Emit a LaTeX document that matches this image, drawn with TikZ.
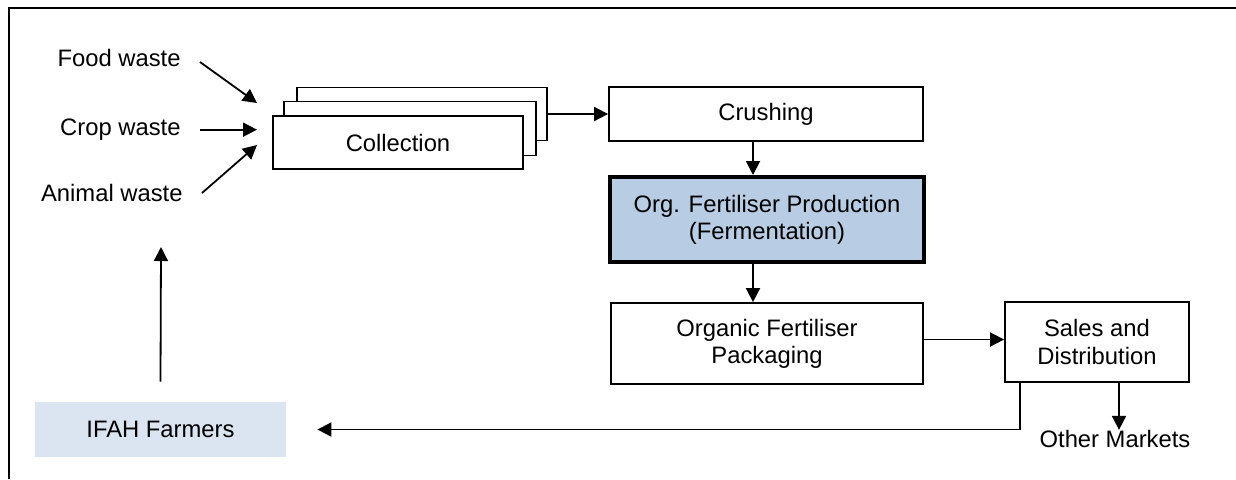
\documentclass[tikz,border=0pt]{standalone}
\usepackage{fontspec}
\setmainfont{Liberation Sans}
\usetikzlibrary{arrows.meta}
\definecolor{prodblue}{HTML}{B8CCE4}
\definecolor{farmblue}{HTML}{DBE5F1}
\begin{document}
\begin{tikzpicture}[x=0.5pt,y=-0.5pt,
  every node/.style={font=\fontsize{11.9pt}{13.6pt}\selectfont},
  stage/.style={draw, line width=0.9pt, fill=white, align=center, inner sep=0pt},
  wastetext/.style={inner sep=0pt, anchor=base east},
  arr/.style={-{Triangle[length=7pt,width=7pt]}, line width=0.9pt}]
\useasboundingbox (0,0) rectangle (1236,479);

% outer frame
\draw[line width=1.4pt, line join=miter] (9,479) -- (9,8) -- (1236,8);

% waste sources
\node[wastetext] (food)   at (181,66.5)  {Food waste};
\node[wastetext] (crop)   at (181,135.5) {Crop waste};
\node[wastetext] (animal) at (183,201.5) {Animal waste};
\coordinate (fw-tip) at (257,103);
\coordinate (cw-tip) at (257,127);
\coordinate (aw-tip) at (257,145);

% stacked collection boxes
\node[stage, minimum width=125pt, minimum height=26.5pt] (colC) at (422,114) {};
\node[stage, minimum width=126pt, minimum height=27pt]   (colB) at (410,128.5) {};
\node[stage, minimum width=125pt, minimum height=26.5pt] (colA) at (398,142.5) {Collection};

% process chain
\node[stage, minimum width=157pt, minimum height=27pt] (crush) at (766,114) {Crushing};
\node[stage, minimum width=157pt, minimum height=42.5pt, line width=2pt, fill=prodblue]
  (prod) at (767,219.5) {Org. Fertiliser Production\\(Fermentation)};
\node[stage, minimum width=156pt, minimum height=40.5pt] (pack) at (767,343.5)
  {Organic Fertiliser\\Packaging};
\node[stage, minimum width=92pt, minimum height=40pt] (sales) at (1097,342)
  {Sales and\\Distribution};
\node[inner sep=0pt] (other) at (1115,439) {Other Markets};
\node[fill=farmblue, minimum width=125.5pt, minimum height=27.5pt, inner sep=0pt]
  (ifah) at (160.5,429.5) {IFAH Farmers};
\coordinate (farm-out) at (161,247);

% connectors
\draw[arr] ([xshift=9.5pt,yshift=-2pt]food.east) -- (fw-tip);
\draw[arr] ([xshift=9.5pt]crop.east) -- (cw-tip |- crop.east);
\draw[arr] ([xshift=9.5pt]animal.east) -- (aw-tip);
\draw[arr] (colC.east) -- (crush.west);
\draw[arr] ([xshift=-6.5pt]crush.south) -- ([xshift=-6.5pt]crush.south |- prod.north);
\draw[arr] ([xshift=-7pt]prod.south) -- ([xshift=-7pt]prod.south |- pack.north);
\draw[arr] ([yshift=2pt]pack.east) -- ([yshift=2pt]pack.east -| sales.west);
\draw[arr] ([xshift=11pt]sales.south) -- ([xshift=11pt]sales.south |- other.north);
\draw[arr] ([xshift=8pt]sales.south west) |- ([xshift=15.5pt]ifah.east);
\draw[arr] ([yshift=10pt]ifah.north) -- (farm-out);
\end{tikzpicture}
\end{document}
